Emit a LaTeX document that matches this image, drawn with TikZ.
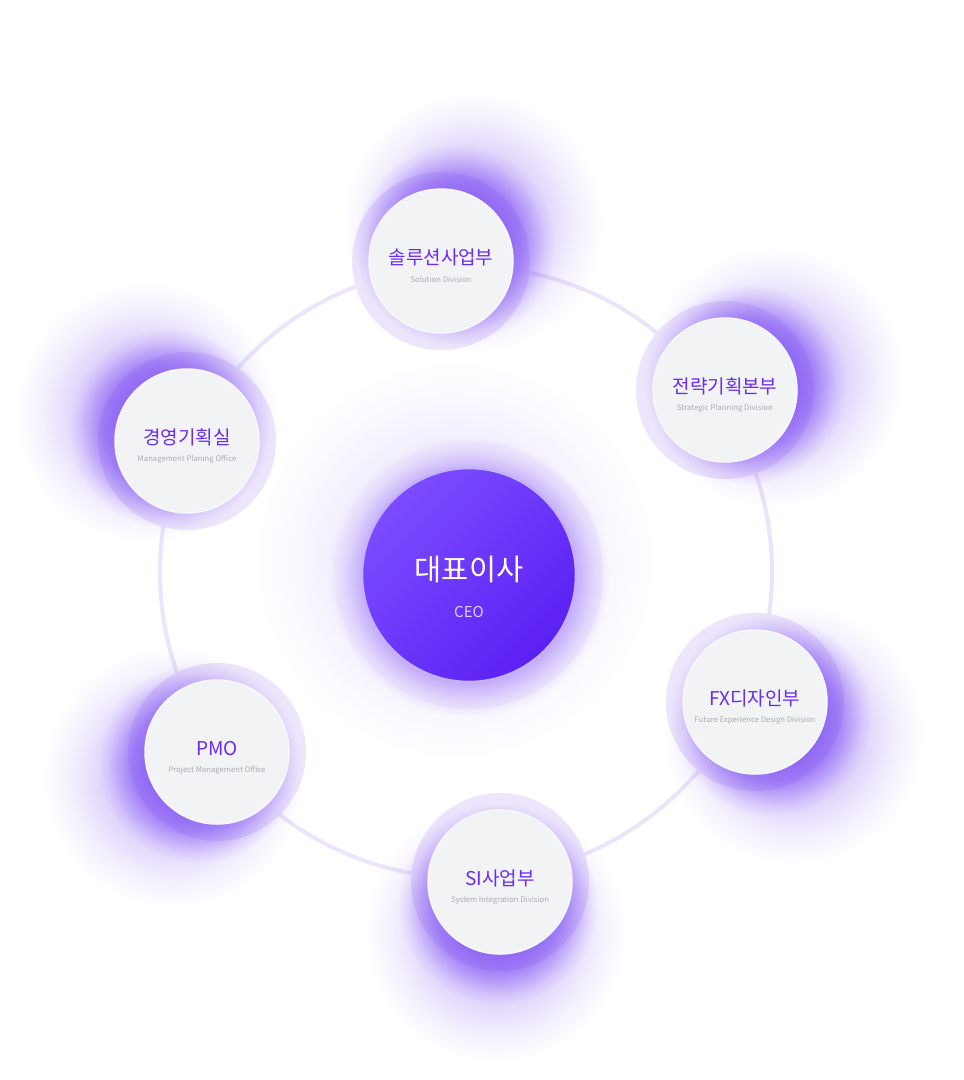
\documentclass[tikz,border=0pt]{standalone}
\usepackage{fontspec}
\setmainfont{Noto Sans CJK KR}
\usetikzlibrary{calc,fadings}
\definecolor{ringline}{HTML}{ECE4FB}
\definecolor{outerring}{HTML}{EDE5FC}
\definecolor{innerfill}{HTML}{F1F3F5}
\definecolor{innerborder}{HTML}{F8F6FE}
\definecolor{glowc}{HTML}{7C4DF3}
\definecolor{labelc}{HTML}{6A2CF0}
\definecolor{subc}{HTML}{ABABAF}
\definecolor{ceoA}{HTML}{7C4CFF}
\definecolor{ceoB}{HTML}{5C20F4}
\definecolor{ceosubc}{HTML}{DDD2FF}
\definecolor{haloc}{HTML}{F1EBFD}
\definecolor{ceoborder}{HTML}{C4B1FB}
\definecolor{oA}{gray}{1}
\definecolor{oB}{gray}{0.9}
\definecolor{oC}{gray}{0.8}
\definecolor{oD}{gray}{0.5}
\definecolor{oE}{gray}{0.4}
\definecolor{oF}{gray}{0.2}
\definecolor{oG}{gray}{0.15}
\definecolor{oH}{gray}{0}
\pgfdeclareradialshading{shadowshade}{\pgfpointorigin}{color(0bp)=(oA); color(12.5bp)=(oA); color(16.25bp)=(oC); color(20bp)=(oE); color(22.5bp)=(oG); color(25bp)=(oH); color(50bp)=(oH)}
\pgfdeclarefading{shadowfade}{\pgfuseshading{shadowshade}}
\pgfdeclareradialshading{wideshade}{\pgfpointorigin}{color(0bp)=(oA); color(7.5bp)=(oB); color(15bp)=(oD); color(20bp)=(oF); color(25bp)=(oH); color(50bp)=(oH)}
\pgfdeclarefading{widefade}{\pgfuseshading{wideshade}}
\tikzset{
  titletext/.style={font=\fontsize{19}{22}\selectfont, text=labelc, inner sep=0pt},
  subtext/.style={font=\fontsize{7.7}{9}\selectfont, text=subc, inner sep=0pt},
  innercircle/.style={circle, minimum size=144pt, inner sep=0pt, fill=innerfill, draw=innerborder, line width=1.5pt},
  ceotitle/.style={font=\fontsize{29.5}{32}\selectfont, text=white, inner sep=0pt},
  ceosub/.style={font=\fontsize{15}{17}\selectfont, text=ceosubc, inner sep=0pt},
  wideglow/.style={fill=glowc, path fading=widefade, fit fading=true},
  shadowglow/.style={fill=glowc, path fading=shadowfade, fit fading=true},
}
\newcommand{\satellite}[6]{%
  \pgfmathsetmacro\ax{#2+22*cos(#4)}
  \pgfmathsetmacro\ay{#3-22*sin(#4)}
  \pgfmathsetmacro\bx{#2+50*cos(#4)}
  \pgfmathsetmacro\by{#3-50*sin(#4)}
  \fill[outerring] (#2,#3) circle (89pt);
  \fill[wideglow, fill opacity=0.4] (\bx,\by) circle (130pt);
  \fill[shadowglow, fill opacity=0.7] (\ax,\ay) circle (100pt);
  \node[innercircle] (#1) at (#2,#3) {};
  \node[titletext] (#1-t) at (#2,#3-3.5) {#5};
  \node[subtext] (#1-s) at (#2,#3+18.5) {#6};
}
\begin{document}
\begin{tikzpicture}[x=1pt,y=-1pt]
\fill[white] (0,0) rectangle (964,1080);
\useasboundingbox (0,0) rectangle (964,1080);
% CEO glow and halo
\fill[wideglow, fill opacity=0.18] (455,560) circle (200pt);
\fill[haloc] (469,575) circle (134pt);
\fill[shadowglow, fill opacity=0.75] (469,577) circle (140pt);
% ring line
\coordinate (ringc) at (466,572);
\draw[ringline, line width=4pt] (ringc) circle (306pt);
% CEO circle
\shade[top color=ceoA, bottom color=ceoB, shading angle=45] (469,575) circle (107pt);
\draw[ceoborder, line width=2.5pt] (469,575) circle (107pt);
\node[ceotitle] (ceo-t) at (469,569) {대표이사};
\node[ceosub] (ceo-s) at (469,612) {CEO};
% satellites
\satellite{sol}{441}{261}{50}{솔루션사업부}{Solution Division}
\satellite{str}{725}{390}{15}{전략기획본부}{Strategic Planning Division}
\satellite{mgt}{187}{441}{145}{경영기획실}{Management Planing Office}
\satellite{fx}{755}{702}{-40}{FX디자인부}{Future Experience Design Division}
\satellite{pmo}{217}{752}{-150}{PMO}{Project Management Office}
\satellite{si}{500}{882}{-95}{SI사업부}{System Integration Division}
\end{tikzpicture}
\end{document}
